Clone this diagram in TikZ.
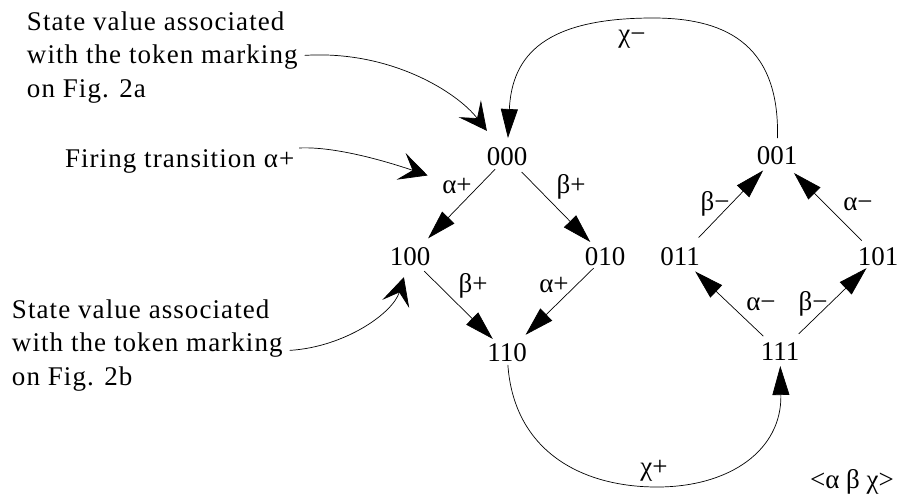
\documentclass[tikz,border=0pt]{standalone}
\usepackage{fontspec}
\setmainfont{Liberation Serif}
\usetikzlibrary{arrows.meta}
\begin{document}
\begin{tikzpicture}[x=1pt,y=-1pt,
  every node/.style={inner sep=0pt,outer sep=0pt,font=\fontsize{27}{33.5}\selectfont},
  state/.style={},
  lab/.style={anchor=base},
  note/.style={align=left,font=\fontsize{27}{33.5}\selectfont\addfontfeatures{LetterSpace=4}},
  tr/.style={line width=0.7pt,-{Triangle[length=29pt,width=17pt]}},
  ann/.style={line width=0.7pt,-{Stealth[length=28pt,width=28pt,inset=12pt]}}]
\useasboundingbox (0,0) rectangle (899,501);
% states
\node[state] (n000) at (507,157) {000};
\node[state] (n100) at (410,257) {100};
\node[state] (n010) at (605,257) {010};
\node[state] (n110) at (507,353) {110};
\node[state] (n001) at (777,156) {001};
\node[state] (n011) at (680,257) {011};
\node[state] (n101) at (878,257) {101};
\node[state] (n111) at (780,352) {111};
% edge labels
\node[lab] (la1) at (457,193) {α+};
\node[lab] (lb1) at (571,193) {β+};
\node[lab] (lb2) at (473,292) {β+};
\node[lab] (la2) at (554,292) {α+};
\node[lab] (lb3) at (715,210) {β−};
\node[lab] (la3) at (858,210) {α−};
\node[lab] (la4) at (761,310) {α−};
\node[lab] (lb4) at (813,310) {β−};
\node[lab] (lcm) at (632,42) {χ−};
\node[lab] (lcp) at (654,475) {χ+};
\node[lab] (key) at (852,488) {<α β χ>};
% annotations
\node[note,anchor=north west] (ann1) at (27,11.6) {State value associated\\with the token marking\\on Fig. 2a};
\node[note,anchor=base west] (ann2) at (65,167) {Firing transition α+};
\node[note,anchor=north west] (ann3) at (12,299.6) {State value associated\\with the token marking\\on Fig. 2b};
% state edges
\draw[tr,shorten <=17pt,shorten >=26pt] (n000.center) -- (n100.center);
\draw[tr,shorten <=21pt,shorten >=21pt] (n000.center) -- (n010.center);
\draw[tr,shorten <=20pt,shorten >=20pt] (n100.center) -- (n110.center);
\draw[tr,shorten <=16pt,shorten >=26pt] (n010.center) -- (n110.center);
\draw[tr,shorten <=27pt,shorten >=20pt] (n011.center) -- (n001.center);
\draw[tr,shorten <=23pt,shorten >=24pt] (n101.center) -- (n001.center);
\draw[tr,shorten <=23pt,shorten >=21pt] (n111.center) -- (n011.center);
\draw[tr,shorten <=26pt,shorten >=16pt] (n111.center) -- (n101.center);
% chi edges
\draw[tr,shorten <=18pt,shorten >=19pt] (n001.center) .. controls (780,40) and (720,18) .. (653,18)
  .. controls (545,18) and (512,55) .. (n000.center);
\draw[tr,shorten <=12pt,shorten >=14pt] (n110.center) .. controls (514,450) and (580,487) .. (657,487)
  .. controls (730,487) and (782,450) .. (n111.center);
% annotation arrows
\draw[ann,shorten >=33pt] (ann1.east) ++(7,-2) .. controls (390,50) and (457,92) .. (n000.center);
\draw[ann,shorten >=31pt] (ann2.east) ++(5,-13) .. controls (340,146) and (400,166) .. (la1.center);
\draw[ann,shorten >=21pt] (ann3.east) ++(7,5) .. controls (345,347) and (393,313) .. (n100.center);
\end{tikzpicture}
\end{document}
